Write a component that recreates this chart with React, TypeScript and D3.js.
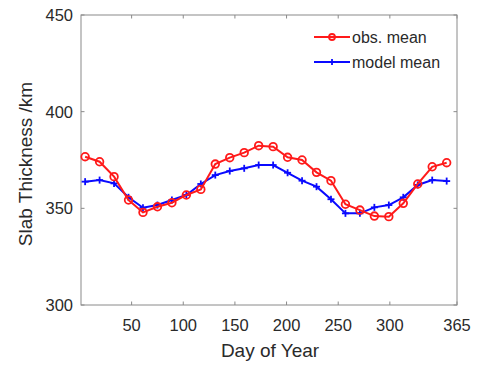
import React from "react";
import * as d3 from "d3";

const days = [5, 19, 33, 47, 61, 75, 89, 103, 117, 131, 145, 159, 173, 187, 201, 215, 229, 243, 257, 271, 285, 299, 313, 327, 341, 355];
const obsMean = [376.7, 374.1, 366.4, 354.3, 347.9, 350.8, 352.9, 356.9, 359.8, 372.9, 376.2, 378.8, 382.4, 381.9, 376.4, 375.0, 368.6, 364.3, 352.1, 349.1, 346.0, 345.7, 352.6, 362.6, 371.5, 373.6];
const modelMean = [363.8, 364.6, 362.9, 355.7, 350.3, 351.7, 354.3, 356.9, 362.6, 367.2, 369.3, 370.7, 372.4, 372.4, 368.4, 364.3, 361.2, 354.7, 347.4, 347.4, 350.5, 351.7, 355.7, 362.1, 364.6, 364.1];
const xTicks = [50, 100, 150, 200, 250, 300, 365];
const yTicks = [300, 350, 400, 450];
const seriesNames = ["obs. mean", "model mean"];

export default function App() {
  const W = 479, H = 366;
  const L = 81, R = 457, T = 15, B = 305;
  const x = d3.scaleLinear().domain([1, 365]).range([L, R]);
  const y = d3.scaleLinear().domain([300, 450]).range([B, T]);
  const line = d3.line<[number, number]>().x(d => x(d[0])).y(d => y(d[1]));
  const obsPts: [number, number][] = days.map((d, i) => [d, obsMean[i]]);
  const modPts: [number, number][] = days.map((d, i) => [d, modelMean[i]]);
  const axisColor = "#8a8a8a";
  const textColor = "#2a2a2a";
  const font = "'Liberation Sans', Arial, sans-serif";
  const red = "#ff1a1a";
  const blue = "#0a0aff";
  const tl = 3.5;
  return (
    <svg width={W} height={H} style={{ position: "absolute", left: 0, top: 0, background: "#fff" }} fontFamily={font}>
      <rect x={0} y={0} width={W} height={H} fill="#fff" />
      <rect x={L} y={T} width={R - L} height={B - T} fill="none" stroke={axisColor} strokeWidth={1} />
      {xTicks.map(t => (
        <g key={"x" + t}>
          <line x1={x(t)} x2={x(t)} y1={B} y2={B - tl} stroke={axisColor} />
          <line x1={x(t)} x2={x(t)} y1={T} y2={T + tl} stroke={axisColor} />
          <text x={x(t)} y={B + 26} textAnchor="middle" fontSize={16.5} fill={textColor}>{t}</text>
        </g>
      ))}
      {yTicks.map(t => (
        <g key={"y" + t}>
          <line x1={L} x2={L + tl} y1={y(t)} y2={y(t)} stroke={axisColor} />
          <line x1={R} x2={R - tl} y1={y(t)} y2={y(t)} stroke={axisColor} />
          <text x={L - 8} y={y(t) + 6} textAnchor="end" fontSize={16.5} fill={textColor}>{t}</text>
        </g>
      ))}
      <text x={270} y={357} textAnchor="middle" fontSize={19} fill={textColor}>Day of Year</text>
      <text transform={`translate(32,164) rotate(-90)`} textAnchor="middle" fontSize={19} fill={textColor}>Slab Thickness /km</text>

      <path d={line(modPts) || ""} fill="none" stroke={blue} strokeWidth={2} />
      {modPts.map((p, i) => (
        <g key={"m" + i} stroke={blue} strokeWidth={1.8}>
          <line x1={x(p[0]) - 3.5} x2={x(p[0]) + 3.5} y1={y(p[1])} y2={y(p[1])} />
          <line x1={x(p[0])} x2={x(p[0])} y1={y(p[1]) - 3.5} y2={y(p[1]) + 3.5} />
        </g>
      ))}
      <path d={line(obsPts) || ""} fill="none" stroke={red} strokeWidth={2} />
      {obsPts.map((p, i) => (
        <circle key={"o" + i} cx={x(p[0])} cy={y(p[1])} r={3.8} fill="none" stroke={red} strokeWidth={1.8} />
      ))}

      <g>
        <line x1={314} x2={350} y1={37} y2={37} stroke={red} strokeWidth={2} />
        <circle cx={332} cy={37} r={3} fill="none" stroke={red} strokeWidth={1.8} />
        <text x={352} y={43} fontSize={16} fill={textColor}>{seriesNames[0]}</text>
        <line x1={314} x2={350} y1={62} y2={62} stroke={blue} strokeWidth={2} />
        <line x1={329} x2={335} y1={62} y2={62} stroke={blue} strokeWidth={1.8} />
        <line x1={332} x2={332} y1={59} y2={65} stroke={blue} strokeWidth={1.8} />
        <text x={352} y={68} fontSize={16} fill={textColor}>{seriesNames[1]}</text>
      </g>
    </svg>
  );
}
